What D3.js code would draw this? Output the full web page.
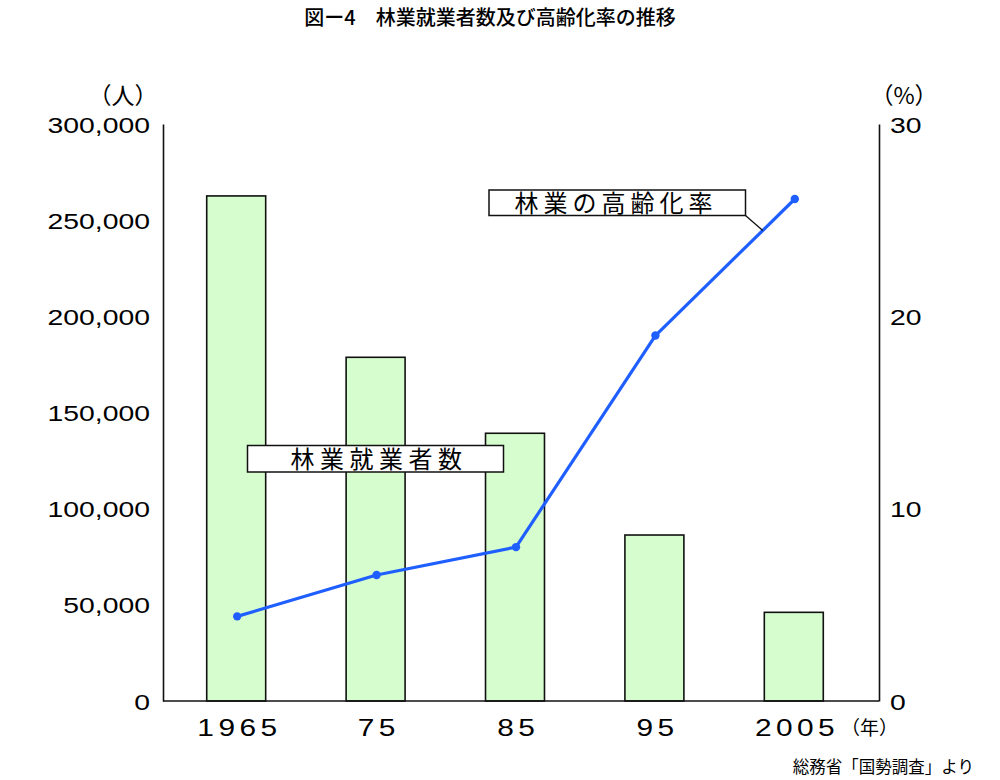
<!DOCTYPE html>
<html><head><meta charset="utf-8">
<script src="https://cdn.jsdelivr.net/npm/d3@7"></script>
<style>
html,body{margin:0;padding:0;background:#fff;}
svg{display:block;}
text{font-family:"Liberation Sans",Arial,sans-serif;fill:#000;}
.jp{font-family:"Noto Sans CJK JP","Noto Sans",sans-serif;}
</style></head>
<body>
<svg id="chart" width="1000" height="780"></svg>
<script>
const categories = ["1965", "75", "85", "95", "2005"];
const workers = [262600, 178700, 139200, 86300, 46100];
const agingRate = [4.4, 6.55, 8.0, 19.0, 26.1];
const leftTicks = [0, 50000, 100000, 150000, 200000, 250000, 300000];
const rightTicks = [0, 10, 20, 30];
const titleText = "図ー4　林業就業者数及び高齢化率の推移";
const sourceText = "総務省「国勢調査」より";

const svg = d3.select("#chart");
const x = d3.scaleBand().domain(categories).range([166.5, 863.5]).paddingInner(0.577).paddingOuter(0.2885);
const yL = d3.scaleLinear().domain([0, 300000]).range([701, 124]);
const yR = d3.scaleLinear().domain([0, 30]).range([701, 124]);
const fmt = d3.format(",");

// title
svg.append("text").attr("class","jp").attr("x",490).attr("y",25)
  .attr("text-anchor","middle").style("font-size","20px").style("font-weight","500").text(titleText);

// unit labels
svg.append("text").attr("class","jp").attr("x",123).attr("y",104).attr("text-anchor","middle")
  .style("font-size","23px").text("（人）");
svg.append("text").attr("class","jp").attr("x",904).attr("y",104).attr("text-anchor","middle")
  .style("font-size","23px").text("（%）");

// bars
svg.append("g").selectAll("rect").data(categories).join("rect")
  .attr("x", d => x(d)).attr("width", x.bandwidth())
  .attr("y", (d,i) => yL(workers[i])).attr("height", (d,i) => yL(0) - yL(workers[i]))
  .attr("fill","#d6fdcd").attr("stroke","#111").attr("stroke-width",1.6);

// axes lines
const axisL = svg.append("g").attr("transform","translate(163,0)")
  .call(d3.axisLeft(yL).tickValues(leftTicks).tickSize(0).tickFormat(() => ""));
const axisR = svg.append("g").attr("transform","translate(879,0)")
  .call(d3.axisRight(yR).tickValues(rightTicks).tickSize(0).tickFormat(() => ""));
[axisL, axisR].forEach(a => a.select(".domain").attr("stroke","#111").attr("stroke-width",1.6));
svg.append("line").attr("x1",163).attr("x2",879).attr("y1",yL(0)).attr("y2",yL(0))
  .attr("stroke","#111").attr("stroke-width",1.6);

// left tick labels
svg.append("g").selectAll("g").data(leftTicks).join("g")
  .attr("transform", d => `translate(150,${yL(d)+8.5}) scale(1.26,1)`)
  .append("text").attr("text-anchor","end").style("font-size","22.5px").text(d => fmt(d));

// right tick labels
svg.append("g").selectAll("g").data(rightTicks).join("g")
  .attr("transform", d => `translate(890,${yR(d)+8.5}) scale(1.26,1)`)
  .append("text").attr("text-anchor","start").style("font-size","22.5px").text(d => d);

// x labels (character spacing via dx, no trailing space)
const xl = svg.append("g").selectAll("g").data(categories).join("g")
  .attr("transform", d => `translate(${x(d)+x.bandwidth()/2+1},736) scale(1.22,1)`);
xl.append("text").attr("text-anchor","middle").style("font-size","24.5px")
  .attr("dx", d => d.split("").map((c,i) => i ? 3.6 : 0).join(" "))
  .text(d => d);
// 年 unit after last label
svg.append("text").attr("class","jp")
  .attr("x", 898).attr("y",735).attr("text-anchor","end").style("font-size","19px").text("（年）");

// line
const pts = categories.map((c,i) => [x(c)+x.bandwidth()/2+1, yR(agingRate[i])]);
svg.append("path").attr("d", d3.line()(pts)).attr("fill","none")
  .attr("stroke","#1f5fff").attr("stroke-width",3.2).attr("stroke-linejoin","round");
svg.append("g").selectAll("circle").data(pts).join("circle")
  .attr("cx", d => d[0]).attr("cy", d => d[1]).attr("r",4.2).attr("fill","#1f5fff");

// callout: 林業の高齢化率
const t = 0.77;
const lp = [pts[3][0] + t*(pts[4][0]-pts[3][0]), pts[3][1] + t*(pts[4][1]-pts[3][1])];
svg.append("line").attr("x1",745.5).attr("y1",215.5).attr("x2",lp[0]).attr("y2",lp[1])
  .attr("stroke","#111").attr("stroke-width",1.3);
svg.append("rect").attr("x",489).attr("y",190).attr("width",256.5).attr("height",25.5)
  .attr("fill","#fff").attr("stroke","#111").attr("stroke-width",1.5);
svg.append("text").attr("class","jp").attr("x",616).attr("y",212).attr("text-anchor","middle")
  .style("font-size","24px").style("letter-spacing","5px").text("林業の高齢化率");

// label: 林業就業者数
svg.append("rect").attr("x",247.5).attr("y",445.5).attr("width",256).attr("height",26.5)
  .attr("fill","#fff").attr("stroke","#111").attr("stroke-width",1.5);
svg.append("text").attr("class","jp").attr("x",379).attr("y",468).attr("text-anchor","middle")
  .style("font-size","24px").style("letter-spacing","5.5px").text("林業就業者数");

// source
svg.append("text").attr("class","jp").attr("x",974).attr("y",773).attr("text-anchor","end")
  .style("font-size","16.5px").text(sourceText);
</script>
</body></html>
